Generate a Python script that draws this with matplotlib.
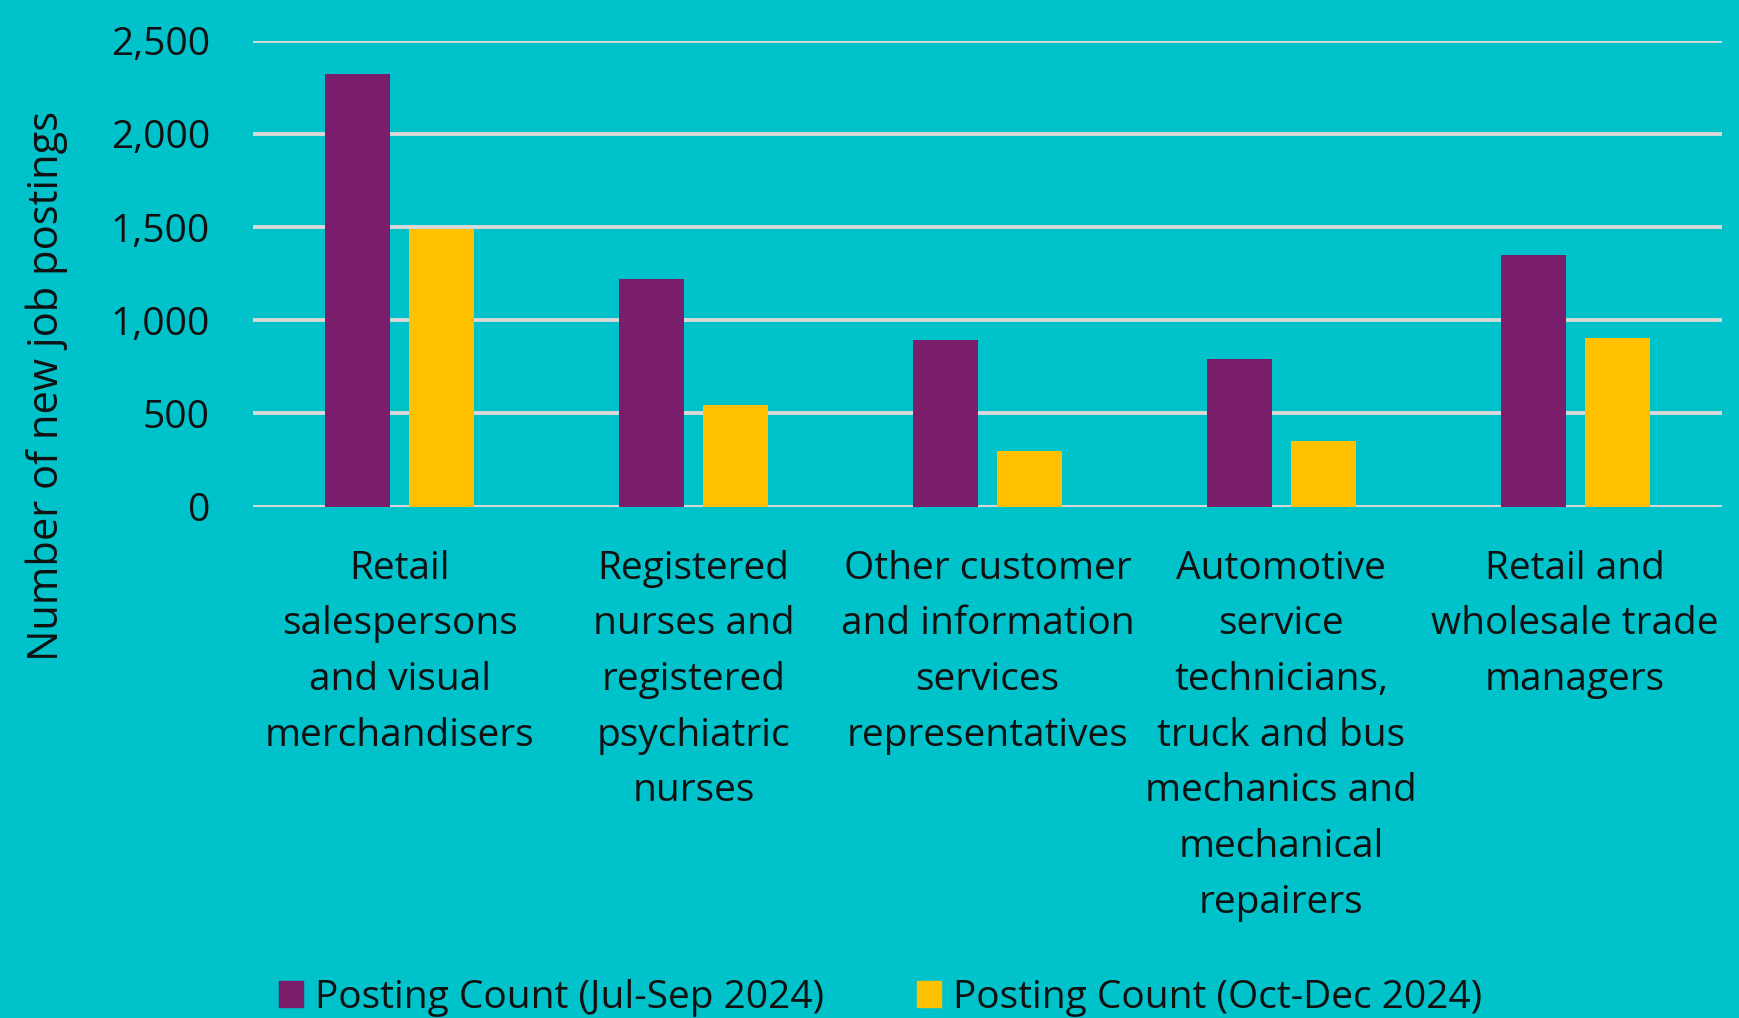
import matplotlib
matplotlib.use("Agg")
import matplotlib.pyplot as plt
import numpy as np
from matplotlib.patches import Patch

categories = [
    "Retail\nsalespersons\nand visual\nmerchandisers",
    "Registered\nnurses and\nregistered\npsychiatric\nnurses",
    "Other customer\nand information\nservices\nrepresentatives",
    "Automotive\nservice\ntechnicians,\ntruck and bus\nmechanics and\nmechanical\nrepairers",
    "Retail and\nwholesale trade\nmanagers",
]
series_names = ["Posting Count (Jul-Sep 2024)", "Posting Count (Oct-Dec 2024)"]
jul_sep = [2320, 1220, 895, 790, 1350]
oct_dec = [1490, 545, 300, 350, 905]
yticks = [0, 500, 1000, 1500, 2000, 2500]
ytick_labels = ["0", "500", "1,000", "1,500", "2,000", "2,500"]

BG = "#00C2CB"
PURPLE = "#7A1E6B"
YELLOW = "#FFC000"
GRID = "#D9D9D9"
FONT = "Open Sans"
FS = 28

plt.rcParams["font.family"] = [FONT, "DejaVu Sans"]

fig = plt.figure(figsize=(17.4, 10.18), dpi=100, facecolor=BG)
ax = fig.add_axes([0.1454, 0.5023, 0.9897 - 0.1454, 0.96 - 0.5023])
ax.set_facecolor(BG)

x = np.arange(len(categories))
w = 0.221
off = 0.143
ax.bar(x - off, jul_sep, width=w, color=PURPLE, zorder=3)
ax.bar(x + off, oct_dec, width=w, color=YELLOW, zorder=3)

ax.set_xlim(-0.5, len(categories) - 0.5)
ax.set_ylim(0, 2500)
ax.set_yticks(yticks)
ax.set_yticklabels(ytick_labels, fontsize=FS, color="#111111")
ax.yaxis.grid(True, color=GRID, linewidth=2.8, zorder=0)
ax.set_axisbelow(True)
for s in ax.spines.values():
    s.set_visible(False)
ax.tick_params(axis="y", length=0, pad=31)
ax.tick_params(axis="x", length=0, pad=31)
ax.set_xticks(x)
ax.set_xticklabels(categories, fontsize=FS, color="#111111", linespacing=1.61, va="top")
ax.set_ylabel("Number of new job postings", fontsize=30, color="#111111")
ax.yaxis.set_label_coords(-0.126, 0.26)

handles = [Patch(color=PURPLE), Patch(color=YELLOW)]
fig.legend(handles, series_names, loc="center", bbox_to_anchor=(0.506, 0.02),
           ncol=2, frameon=False, fontsize=FS, handlelength=0.62, handleheight=0.62,
           handletextpad=0.3, columnspacing=2.4, labelcolor="#111111")

fig.savefig("out.png", dpi=100, facecolor=BG)
